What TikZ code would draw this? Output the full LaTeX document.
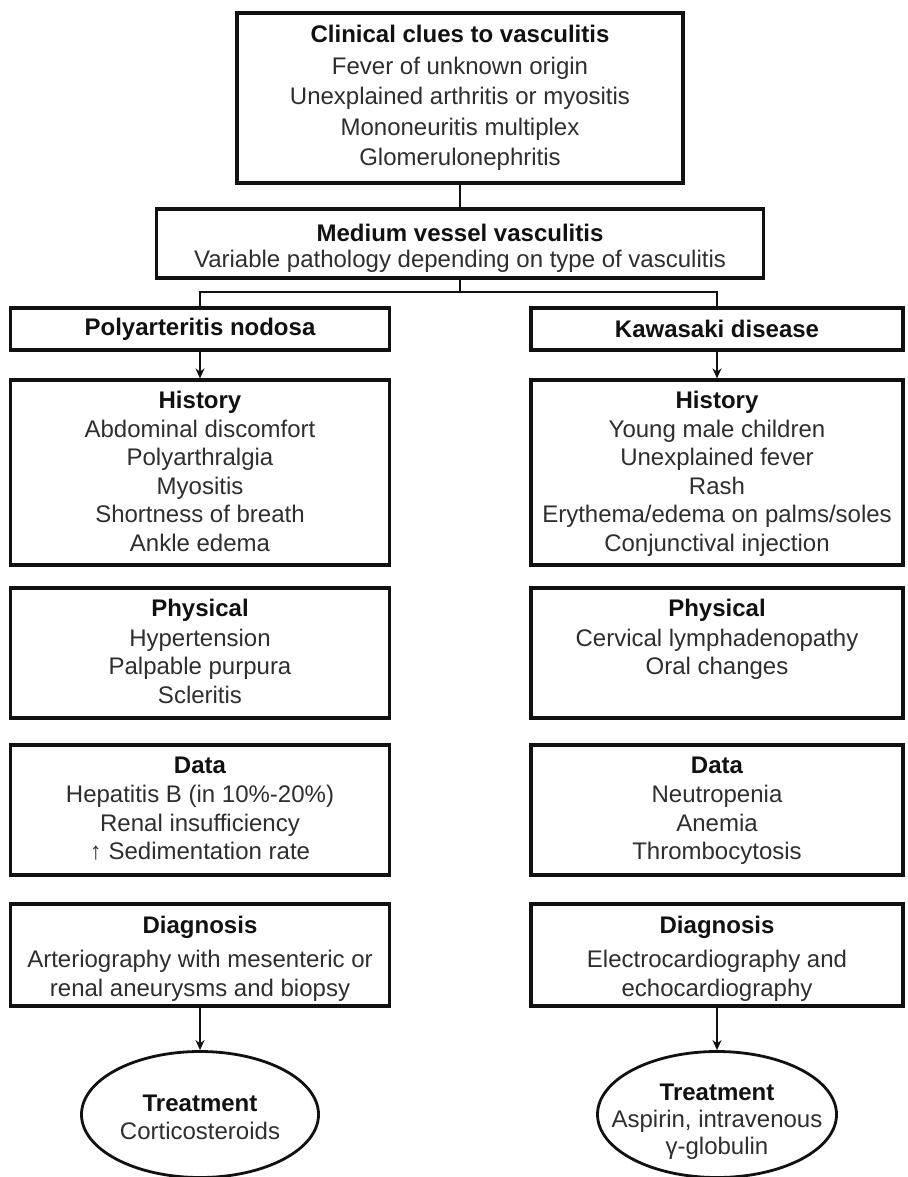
\documentclass[tikz,border=0pt]{standalone}
\usepackage{fontspec}
\setmainfont{Liberation Sans}
\usetikzlibrary{arrows.meta,shapes.geometric}
\definecolor{VXCanvas}{HTML}{FFFFFF}
\definecolor{VXInk}{HTML}{111111}
\definecolor{VXBody}{HTML}{2E2E2E}
\newcommand{\vxhead}[1]{{\bfseries\color{VXInk}#1}}
\tikzset{
  flow/.style={-{Stealth[length=10pt,width=9pt]},VXInk,line width=2pt},
  link/.style={VXInk,line width=2pt},
  card/.style={draw=VXInk,line width=3.2pt,fill=VXCanvas,text=VXBody,inner sep=0pt,
               align=center,font=\fontsize{24}{28.5}\selectfont},
  cardleft/.style={card,minimum width=379pt},
  cardright/.style={card,minimum width=372pt},
  cardtext/.style={text=VXBody,inner sep=0pt,align=center,anchor=north,
                   font=\fontsize{24}{28.5}\selectfont},
  oval/.style={draw=VXInk,line width=2.8pt,fill=VXCanvas,ellipse,inner sep=0pt,
               minimum width=237pt,minimum height=126pt},
  ovaltext/.style={cardtext,anchor=center,font=\fontsize{24}{28}\selectfont},
}

\begin{document}
\begin{tikzpicture}[x=1pt,y=-1pt]
    \useasboundingbox[fill=VXCanvas] (0,0) rectangle (907,1177);

    \node[card,minimum width=446pt,minimum height=170pt,font=\fontsize{24}{30.5}\selectfont]
      (clues) at (460,98)
      {\vxhead{Clinical clues to vasculitis}\\[1pt]
       Fever of unknown origin\\
       Unexplained arthritis or myositis\\
       Mononeuritis multiplex\\
       Glomerulonephritis};

    \node[card,minimum width=607pt,minimum height=69pt] (medium) at (460,243.5) {};
    \node[cardtext,font=\fontsize{24}{25.5}\selectfont] (mediumtxt) at ([yshift=-17pt]medium.north)
      {\vxhead{Medium vessel vasculitis}\\
       Variable pathology depending on type of vasculitis};

    \node[cardleft,minimum height=42pt] (poly) at (200,329) {\vxhead{Polyarteritis nodosa}};
    \node[cardright,minimum height=42pt] (kawa) at (717,329) {\vxhead{Kawasaki disease}};

    \node[cardleft,minimum height=185pt] (hisL) at (200,472.5) {};
    \node[cardright,minimum height=185pt] (hisR) at (717,472.5) {};
    \node[cardleft,minimum height=130pt] (phyL) at (200,653) {};
    \node[cardright,minimum height=130pt] (phyR) at (717,653) {};
    \node[cardleft,minimum height=130pt] (datL) at (200,810) {};
    \node[cardright,minimum height=130pt] (datR) at (717,810) {};
    \node[cardleft,minimum height=102pt] (diaL) at (200,955) {};
    \node[cardright,minimum height=102pt] (diaR) at (717,955) {};

    \node[cardtext] (hisLtxt) at ([yshift=-13pt]hisL.north)
      {\vxhead{History}\\
       Abdominal discomfort\\
       Polyarthralgia\\
       Myositis\\
       Shortness of breath\\
       Ankle edema};
    \node[cardtext] (hisRtxt) at ([yshift=-13pt]hisR.north)
      {\vxhead{History}\\
       Young male children\\
       Unexplained fever\\
       Rash\\
       Erythema/edema on palms/soles\\
       Conjunctival injection};

    \node[cardtext] (phyLtxt) at ([yshift=-13pt]phyL.north)
      {\vxhead{Physical}\\[1pt]
       Hypertension\\
       Palpable purpura\\
       Scleritis};
    \node[cardtext] (phyRtxt) at ([yshift=-13pt]phyR.north)
      {\vxhead{Physical}\\[1pt]
       Cervical lymphadenopathy\\
       Oral changes};

    \node[cardtext] (datLtxt) at ([yshift=-13pt]datL.north)
      {\vxhead{Data}\\[1pt]
       Hepatitis B (in 10\%-20\%)\\
       Renal insufficiency\\
       ↑ Sedimentation rate};
    \node[cardtext] (datRtxt) at ([yshift=-13pt]datR.north)
      {\vxhead{Data}\\[1pt]
       Neutropenia\\
       Anemia\\
       Thrombocytosis};

    \node[cardtext] (diaLtxt) at ([yshift=-13pt]diaL.north)
      {\vxhead{Diagnosis}\\[6pt]
       Arteriography with mesenteric or\\
       renal aneurysms and biopsy};
    \node[cardtext] (diaRtxt) at ([yshift=-13pt]diaR.north)
      {\vxhead{Diagnosis}\\[6pt]
       Electrocardiography and\\
       echocardiography};

    \node[oval] (trtL) at (200,1114.5) {};
    \node[oval,minimum width=239pt] (trtR) at (717,1114.5) {};
    \node[ovaltext] (trtLtxt) at (200,1117.5)
      {\vxhead{Treatment}\\
       Corticosteroids};
    \node[ovaltext,font=\fontsize{24}{27}\selectfont] (trtRtxt) at (717,1122)
      {\vxhead{Treatment}\\
       Aspirin, intravenous\\
       γ-globulin};

    \coordinate (fork) at (460,292);
    \draw[link] (clues.south) -- (medium.north);
    \draw[link] (medium.south) -- (fork);
    \draw[link] (fork) -| (poly.north);
    \draw[link] (fork) -| (kawa.north);
    \draw[flow] (poly.south) -- (hisL.north);
    \draw[flow] (kawa.south) -- (hisR.north);
    \draw[flow] (diaL.south) -- (trtL.north);
    \draw[flow] (diaR.south) -- (trtR.north);
  \end{tikzpicture}
\end{document}
